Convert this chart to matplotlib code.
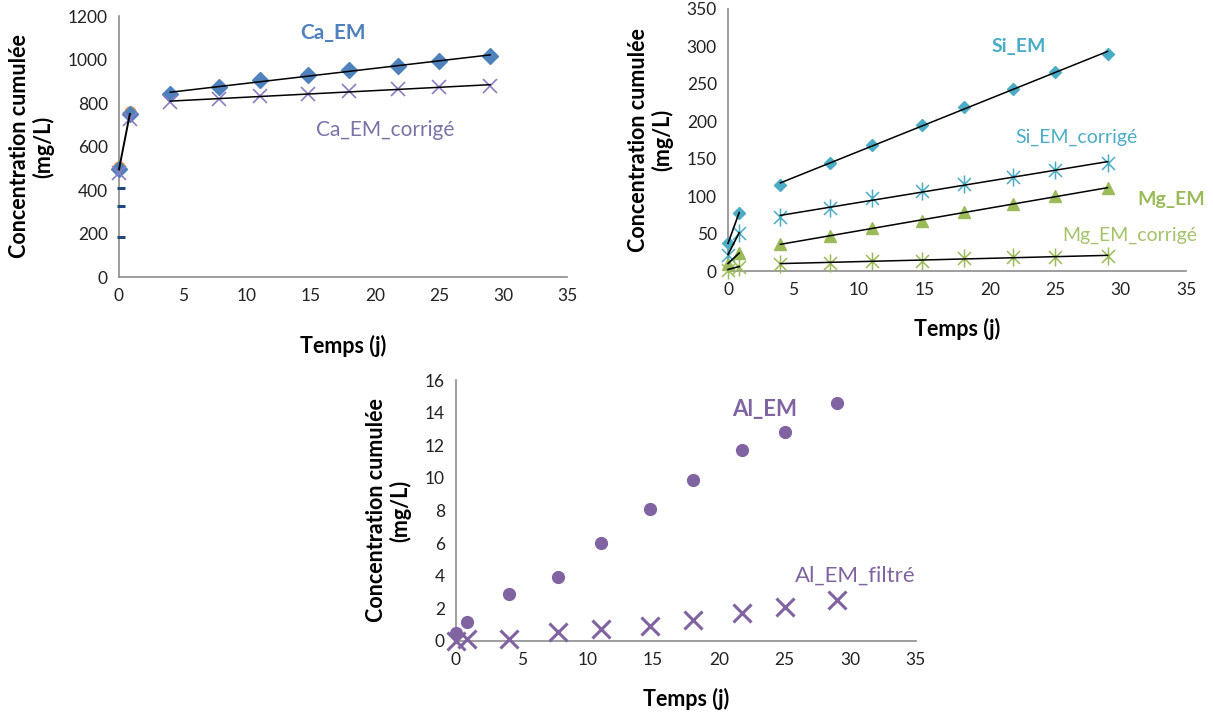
import numpy as np
import matplotlib
matplotlib.use("Agg")
import matplotlib.pyplot as plt
from matplotlib.path import Path

plt.rcParams['font.family'] = ['Lato', 'DejaVu Sans']

# ---------------- data ----------------
t = [0, 0.85, 4, 7.8, 11, 14.8, 18, 21.8, 25, 29]

ca_em = [495, 750, 841, 873, 906, 929, 952, 970, 993, 1016]
ca_em_corr = [478, 725, 805, 820, 832, 842, 855, 865, 872, 880]
ca_orange_t = [0, 0.85]
ca_orange = [505, 760]
ca_dash_t = [0.15, 0.15, 0.15]
ca_dash = [409, 326, 182]

si_em = [37, 78, 115, 144, 168, 195, 219, 243, 266, 290]
si_em_corr = [22, 51, 72, 84, 97, 107, 116, 125, 135, 144]
mg_em = [10, 24, 36, 47, 57, 67, 79, 89, 100, 111]
mg_em_corr = [2, 6, 10, 11, 13, 14, 17, 19, 19, 20]

al_em = [0.5, 1.15, 2.9, 3.9, 6.0, 8.1, 9.9, 11.7, 12.8, 14.6]
al_em_filtre = [0.0, 0.1, 0.15, 0.55, 0.75, 0.9, 1.3, 1.7, 2.1, 2.5]

xticks = [0, 5, 10, 15, 20, 25, 30, 35]

# ---------------- style ----------------
C_CA = '#4F81BD'
C_CA2 = '#8E7CC3'
C_CA2_TXT = '#7B72A8'
C_OR = '#F79646'
C_DASH = '#1F497D'
C_SI = '#4BACC6'
C_MG = '#9BBB59'
C_MG_TXT = '#A4C26A'
C_AL = '#8064A2'
SPINE = '#8C8C8C'

star = Path([(0, -1), (0, 1), (-0.72, -0.72), (0.72, 0.72), (-0.72, 0.72), (0.72, -0.72)],
            [Path.MOVETO, Path.LINETO, Path.MOVETO, Path.LINETO, Path.MOVETO, Path.LINETO])

TICK_FS = 12.5
LAB_FS = 15.5

fig = plt.figure(figsize=(12.13, 7.13), dpi=100)


def style(ax, ymax, ystep, xpad=14):
    ax.set_xlim(0, 35)
    ax.set_ylim(0, ymax)
    ax.set_xticks(xticks)
    ax.set_yticks(np.arange(0, ymax + ystep / 2, ystep))
    for s in ['top', 'right']:
        ax.spines[s].set_visible(False)
    for s in ['left', 'bottom']:
        ax.spines[s].set_color(SPINE)
        ax.spines[s].set_linewidth(1.2)
    ax.tick_params(length=0, labelsize=TICK_FS, colors='#222222', pad=8)
    ax.set_xlabel('Temps (j)', fontsize=LAB_FS, fontweight='bold', labelpad=xpad)
    ax.set_ylabel('Concentration cumulée\n(mg/L)', fontsize=LAB_FS, fontweight='bold', labelpad=10,
                  linespacing=1.1)
    ax.patch.set_alpha(0)


def trend(ax, x, y):
    x = np.asarray(x)
    y = np.asarray(y)
    ax.plot(x[:2], y[:2], color='black', lw=1.2, zorder=4, clip_on=False)
    m = x >= 4
    p = np.polyfit(x[m], y[m], 1)
    xx = np.array([x[m][0], x[m][-1]])
    ax.plot(xx, np.polyval(p, xx), color='black', lw=1.1, zorder=4)


# ---------------- chart 1 : Ca ----------------
ax1 = fig.add_axes([0.0981, 0.6115, 0.3693, 0.366])
style(ax1, 1200, 200, xpad=22)
ax1.plot(ca_orange_t, ca_orange, 'o', color=C_OR, ms=8, zorder=2, clip_on=False)
ax1.plot(t, ca_em, 'D', color=C_CA, ms=8, zorder=3, clip_on=False)
ax1.plot(t, ca_em_corr, 'x', color=C_CA2, ms=10, mew=1.2, zorder=3, clip_on=False)
ax1.plot(ca_dash_t, ca_dash, '_', color=C_DASH, ms=6, mew=2.2, zorder=3, clip_on=False)
xe = np.asarray(t)
ax1.plot(xe[:2], np.asarray(ca_em)[:2], color='black', lw=1.4, zorder=4, clip_on=False)
m = xe >= 4
for ys in (ca_em, ca_em_corr):
    ys = np.asarray(ys)
    p = np.polyfit(xe[m], ys[m], 1)
    xx = np.array([xe[m][0], xe[m][-1]])
    ax1.plot(xx, np.polyval(p, xx), color='black', lw=1.1, zorder=4)
ax1.text(16.7, 1120, 'Ca_EM', color=C_CA, fontsize=15, fontweight='bold', ha='center', va='center')
ax1.text(20.8, 676, 'Ca_EM_corrigé', color=C_CA2_TXT, fontsize=15, ha='center', va='center')

# ---------------- chart 2 : Si / Mg ----------------
ax2 = fig.add_axes([0.6002, 0.6199, 0.3776, 0.3675])
style(ax2, 350, 50)
ax2.plot(t, si_em, 'D', color=C_SI, ms=6.5, zorder=3, clip_on=False)
ax2.plot(t, si_em_corr, linestyle='none', marker=star, color=C_SI, mec=C_SI, ms=13, mew=1.1,
         zorder=3, clip_on=False)
ax2.plot(t, mg_em, '^', color=C_MG, ms=8.5, zorder=3, clip_on=False)
ax2.plot(t, mg_em_corr, linestyle='none', marker=star, color=C_MG, mec=C_MG, ms=13, mew=1.1,
         zorder=3, clip_on=False)
for ys in (si_em, si_em_corr, mg_em, mg_em_corr):
    trend(ax2, t, ys)
ax2.text(22.2, 300, 'Si_EM', color=C_SI, fontsize=14, fontweight='bold', ha='center', va='center')
ax2.text(26.6, 178, 'Si_EM_corrigé', color=C_SI, fontsize=14, ha='center', va='center')
ax2.text(33.9, 95, 'Mg_EM', color=C_MG, fontsize=14, fontweight='bold', ha='center', va='center')
ax2.text(30.7, 48, 'Mg_EM_corrigé', color=C_MG_TXT, fontsize=14, ha='center', va='center')

# ---------------- chart 3 : Al ----------------
ax3 = fig.add_axes([0.3759, 0.101, 0.3792, 0.366])
style(ax3, 16, 2)
ax3.plot(t, al_em, 'o', color=C_AL, ms=8.5, zorder=3, clip_on=False)
ax3.plot(t, al_em_filtre, 'x', color=C_AL, ms=13, mew=2.2, zorder=3, clip_on=False)
ax3.text(23.5, 14.2, 'Al_EM', color=C_AL, fontsize=16, fontweight='bold', ha='center', va='center')
ax3.text(30.4, 4.0, 'Al_EM_filtré', color=C_AL, fontsize=16, ha='center', va='center')

fig.savefig('out.png', dpi=100)
